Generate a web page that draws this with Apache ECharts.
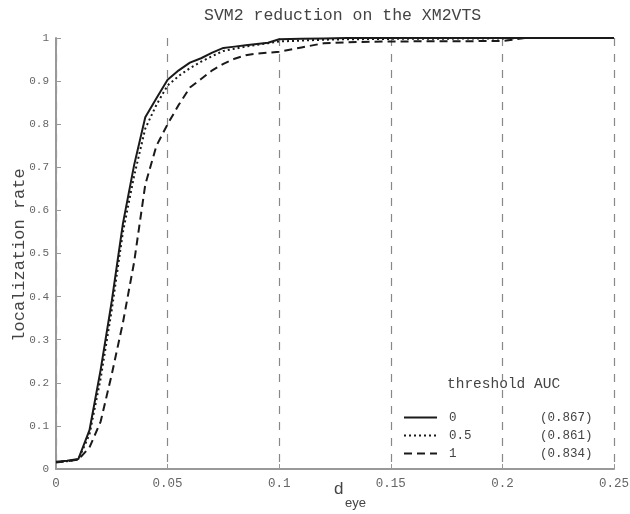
<!DOCTYPE html>
<html>
<head>
<meta charset="utf-8">
<script src="https://cdn.jsdelivr.net/npm/echarts@6/dist/echarts.min.js"></script>
<style>html,body{margin:0;padding:0;background:#fff}#c{width:630px;height:514px}</style>
</head>
<body>
<div id="c"></div>
<script>
var xs = [0,0.005,0.01,0.015,0.02,0.025,0.03,0.035,0.04,0.045,0.05,0.055,0.06,0.065,0.07,0.075,0.08,0.085,0.09,0.095,0.1,0.11,0.12,0.13,0.15,0.2,0.21,0.25];
var thr0 = [0.017,0.019,0.023,0.09,0.23,0.39,0.57,0.705,0.816,0.86,0.903,0.925,0.943,0.953,0.966,0.977,0.98,0.983,0.986,0.989,0.997,0.998,0.999,1,1,1,1,1];
var thr05 = [0.016,0.018,0.022,0.08,0.21,0.37,0.55,0.68,0.79,0.845,0.89,0.912,0.93,0.945,0.958,0.97,0.975,0.98,0.984,0.988,0.992,0.994,0.996,0.997,0.998,0.999,1,1];
var thr1 = [0.015,0.018,0.022,0.05,0.11,0.22,0.34,0.48,0.66,0.75,0.80,0.845,0.885,0.905,0.925,0.94,0.952,0.96,0.964,0.966,0.968,0.978,0.988,0.99,0.992,0.993,1,1];
var seriesNames = ['0','0.5','1'];
var aucValues = ['(0.867)','(0.861)','(0.834)'];
var titleText = 'SVM2 reduction on the XM2VTS';
var yName = 'localization rate';
var xNameMain = 'd';
var xNameSub = 'eye';
var legendTitle = 'threshold AUC';

var mono = '"Liberation Mono", "DejaVu Sans Mono", monospace';
var sans = '"Liberation Sans", Arial, sans-serif';
function pairs(ys){ return xs.map(function(x,i){ return [x, ys[i]]; }); }
var styles = [
  {type:'solid'},
  {type:[2,3]},
  {type:[8,5]}
];
var datas = [thr0, thr05, thr1];
var series = seriesNames.map(function(n,i){
  return {
    name: n, type: 'line', data: pairs(datas[i]), showSymbol: false, symbol: 'none',
    lineStyle: {color: '#1a1a1a', width: 2, type: styles[i].type},
    itemStyle: {color: '#1a1a1a'}
  };
});

var chart = echarts.init(document.getElementById('c'));
chart.setOption({
  animation: false,
  backgroundColor: '#fff',
  title: {
    text: titleText, left: 199, top: 2,
    textStyle: {fontFamily: mono, fontSize: 16.5, fontWeight: 'normal', color: '#444'}
  },
  grid: {left: 56, right: 16, top: 38, bottom: 45, containLabel: false, outerBoundsMode: 'none'},
  legend: {
    orient: 'vertical', left: 403, top: 411, padding: 0, itemWidth: 33, itemHeight: 12, itemGap: 5,
    data: seriesNames,
    itemStyle: {opacity: 0},
    formatter: function(name){
      var i = seriesNames.indexOf(name);
      return '{a|' + name + '}{b|' + aucValues[i] + '}';
    },
    textStyle: {
      fontFamily: mono, fontSize: 12.5, color: '#444',
      rich: {
        a: {fontFamily: mono, fontSize: 12.5, color: '#444', width: 91, padding: [0,0,0,7]},
        b: {fontFamily: mono, fontSize: 12.5, color: '#444'}
      }
    }
  },
  graphic: [
    {type: 'text', left: 447, top: 377,
     style: {text: legendTitle, font: '14.5px ' + mono, fill: '#444'}},
    {type: 'text', x: 19, y: 255, rotation: Math.PI / 2,
     style: {text: yName, font: '17px ' + mono, fill: '#444', textAlign: 'center', textVerticalAlign: 'middle'}},
    {type: 'text', x: 334, y: 481,
     style: {text: xNameMain, font: '17px ' + sans, fill: '#444'}},
    {type: 'text', x: 345, y: 497,
     style: {text: xNameSub, font: '13px ' + sans, fill: '#444'}}
  ],
  xAxis: {
    type: 'value', min: 0, max: 0.25, interval: 0.05,
    axisLine: {lineStyle: {color: '#999', width: 2}},
    axisTick: {inside: true, length: 5, lineStyle: {color: '#999'}},
    axisLabel: {fontFamily: mono, fontSize: 12.5, color: '#666', margin: 8},
    splitLine: {show: true, lineStyle: {color: '#888', type: [8,8], width: 1.2}}
  },
  yAxis: {
    type: 'value', min: 0, max: 1, interval: 0.1,
    axisLine: {show: true, lineStyle: {color: '#999', width: 2}},
    axisTick: {show: true, inside: true, length: 5, lineStyle: {color: '#999'}},
    axisLabel: {fontFamily: mono, fontSize: 11, color: '#666', margin: 7},
    splitLine: {show: false}
  },
  series: series
});
</script>
</body>
</html>
